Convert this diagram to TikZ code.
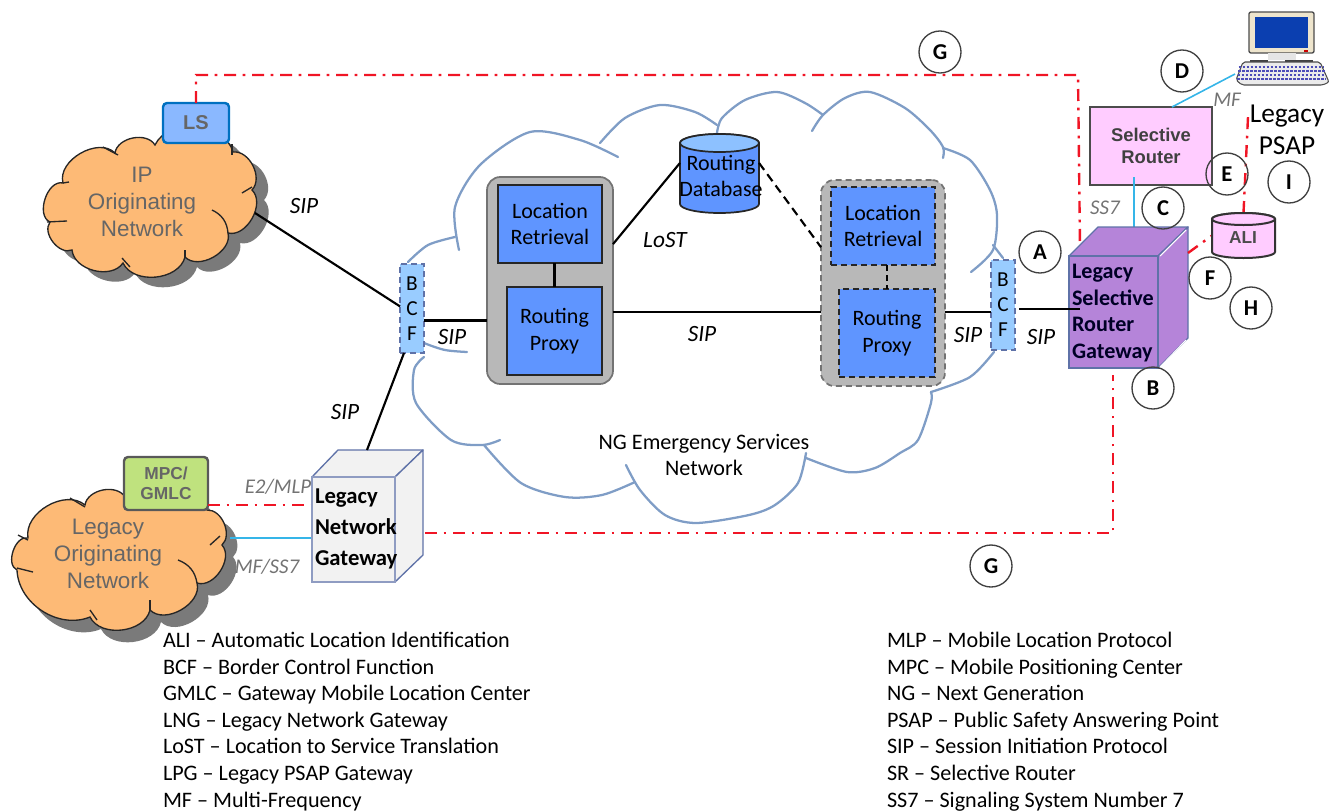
\documentclass[tikz,border=0pt]{standalone}
\usepackage{fontspec}
\setmainfont{Carlito}
\newfontfamily\arialfont{Liberation Sans}
\definecolor{cloudline}{HTML}{7F9DC6}
\definecolor{orangefill}{HTML}{FDBA76}
\definecolor{bluebox}{HTML}{5F95FF}
\definecolor{bcfblue}{HTML}{99CCFF}
\definecolor{pinkbox}{HTML}{FFCCFF}
\definecolor{purplebox}{HTML}{B584D9}
\definecolor{slateline}{HTML}{5F72A8}
\definecolor{redlink}{HTML}{F01525}
\definecolor{cyanlink}{HTML}{35B5E8}
\definecolor{graytext}{HTML}{666666}
\newcommand{\ipcloudpath}{(63,183) to[bend left=75] (115,153) to[bend left=70] (155,145) to[bend left=70] (233,152) to[bend left=70] (252,190) to[bend left=75] (228,233) to[bend left=75] (185,257) to[bend left=70] (123,263) to[bend left=70] (72,250) to[bend left=75] (50,222) to[bend left=85] cycle}
\newcommand{\legacycloudpath}{(28,538) to[bend left=70] (85,505) to[bend left=70] (125,497) to[bend left=60] (207,510) to[bend left=70] (222,545) to[bend left=75] (197,583) to[bend left=75] (150,610) to[bend left=70] (90,617) to[bend left=55] (17,570) to[bend left=85] cycle}
\begin{document}
\begin{tikzpicture}[x=0.75pt, y=-0.75pt,
		every node/.style={inner sep=0pt, outer sep=0pt},
		bigcloud/.style={cloudline, line width=1.7pt, line cap=round},
		orangecloud/.style={draw=black!85, fill=orangefill, line width=1pt},
		cloudshadow/.style={fill=black!52},
		cloudtick/.style={black!85, line width=1pt},
		cloudtext/.style={font=\arialfont\fontsize{16.8}{20}\selectfont, text=graytext, align=center},
		bluenode/.style={draw=black!85, fill=bluebox, line width=1.3pt, align=center, font=\fontsize{16.5}{20}\selectfont},
		boxdash/.style={dash pattern=on 4.5pt off 3pt},
		dashnode/.style={bluenode, boxdash},
		grpbox/.style={draw=black!55, fill=black!28, line width=1.3pt, rounded corners=10pt},
		bcfbox/.style={draw=slateline, fill=bcfblue, boxdash, line width=1pt, minimum width=18pt, align=center, font=\fontsize{16}{18.75}\selectfont},
		siplink/.style={black, line width=1.6pt},
		redline/.style={redlink, line width=1.8pt, dash pattern=on 9pt off 5pt on 2pt off 5pt},
		cyanline/.style={cyanlink, line width=1.2pt},
		boxtop/.style={draw=slateline, line width=1pt, line join=round},
		siptext/.style={font=\itshape\fontsize{17.5}{20}\selectfont},
		graylabel/.style={font=\itshape\fontsize{15.7}{18}\selectfont, text=black!55},
		letter/.style={circle, draw=black!75, line width=1pt, minimum size=31.5pt, font=\bfseries\fontsize{17}{20}\selectfont},
		legendtext/.style={anchor=west, text height=12pt, text depth=1pt, font=\fontsize{16.6}{18}\selectfont}]
		\useasboundingbox (0,0) rectangle (1329,811);

		\draw[bigcloud] plot[smooth] coordinates {(408,262) (428,245) (455,237)};
		\draw[bigcloud] plot[smooth] coordinates {(459,250) (455,207) (480,165) (530,132) (580,140) (618,157)};
		\draw[bigcloud] plot[smooth] coordinates {(600,143) (625,118) (660,105) (695,112) (717,125)};
		\draw[bigcloud] plot[smooth] coordinates {(717,133) (722,118) (745,100) (777,92) (805,103) (823,115)};
		\draw[bigcloud] plot[smooth] coordinates {(812,131) (823,115) (845,98) (870,92) (905,108) (930,130) (943,147) (943,158)};
		\draw[bigcloud] plot[smooth] coordinates {(943,148) (970,160) (990,190) (997,215) (993,250) (971,272)};
		\draw[bigcloud] (993,245) -- (1003,258);
		\draw[bigcloud] plot[smooth] coordinates {(994,352) (970,377) (931,392)};
		\draw[bigcloud] plot[smooth] coordinates {(931,392) (931,403) (918,440) (900,453) (875,468) (847,472) (806,458)};
		\draw[bigcloud] plot[smooth] coordinates {(806,453) (798,483) (775,505) (749,515) (696,523) (665,515) (640,490) (626,465)};
		\draw[bigcloud] plot[smooth] coordinates {(635,482) (602,495) (565,497) (521,483) (484,445)};
		\draw[bigcloud] plot[smooth] coordinates {(500,440) (482,445) (451,440) (416,403) (414,370) (424,357)};
		\draw[bigcloud] plot[smooth] coordinates {(467,352) (445,350) (424,343) (408,335)};
		\node[align=center, font=\fontsize{16.6}{20}\selectfont] (ngtext) at (704,455) {NG Emergency Services\\Network};

		\fill[cloudshadow, shift={(12,10)}] \ipcloudpath;
		\draw[orangecloud] \ipcloudpath;
		\draw[cloudtick] (212,210) to[bend left=30] (228,233);
		\draw[cloudtick] (242,193) -- (252,187);
		\draw[cloudtick] (122,258) -- (130,267);
		\draw[cloudtick] (185,250) -- (185,257);
		\draw[cloudtick] (47,222) -- (67,221);
		\draw[cloudtick] (63,183) -- (69,182);
		\draw[cloudtick] (103,147) -- (118,155);
		\draw[cloudtick] (232,144) -- (232,155);
		\node[cloudtext] (iptext) at (142,202) {IP\\Originating\\Network};

		\fill[cloudshadow, shift={(11,12)}] \legacycloudpath;
		\draw[orangecloud] \legacycloudpath;
		\draw[cloudtick] (178,560) to[bend left=30] (197,583);
		\draw[cloudtick] (210,545) -- (220,536);
		\draw[cloudtick] (150,600) -- (150,610);
		\draw[cloudtick] (90,610) -- (97,620);
		\draw[cloudtick] (17,568) -- (33,572);
		\draw[cloudtick] (18,535) -- (28,540);
		\draw[cloudtick] (70,498) -- (85,507);
		\node[cloudtext] (legacytext) at (108,554) {Legacy\\Originating\\Network};

		\node[draw={rgb,255:red,0;green,112;blue,192}, fill=bcfblue!90!blue, line width=1.8pt, rounded corners=3pt, minimum width=49.5pt, minimum height=30pt, text=graytext, font=\arialfont\bfseries\fontsize{15}{18}\selectfont] (ls) at (196,123) {LS};
		\node[draw=black!65, fill={rgb,255:red,191;green,226;blue,126}, line width=1.8pt, rounded corners=3pt, minimum width=63pt, minimum height=39.75pt, align=center, text=graytext, font=\arialfont\bfseries\fontsize{13}{15}\selectfont] (mpc) at (166,483.5) {MPC/\\GMLC};

		\coordinate (ipedge) at (255,213);
		\coordinate (legacyedge) at (230,538);
		\coordinate (redtop) at (1078,75);
		\coordinate (redin) at (1080,247);
		\coordinate (lngout) at (425,533);
		\coordinate (mpcout) at (208,505);
		\coordinate (mpcin) at (312,505);
		\coordinate (siplev) at (0,312);
		\coordinate (bcflout) at (424,320.5);
		\coordinate (bcfrout) at (1019,309);
		\coordinate (srin) at (1134,177);
		\coordinate (lsrgtop) at (1134,230);
		\coordinate (lsrgback) at (1188,253);
		\coordinate (psapred) at (1248,117);
		\coordinate (sipin) at (1080,309);
		\coordinate (lngin) at (312,538);

		\draw[redline] (ls.north) |- (redtop) -- (redin);

		\node[grpbox, minimum width=94.5pt, minimum height=155.25pt] (grpl) at (550,280.5) {};
		\node[grpbox, boxdash, minimum width=93pt, minimum height=154.5pt] (grpr) at (883,283) {};
		\node[bluenode, minimum width=78pt, minimum height=58.5pt] (lrl) at (550,224) {Location\\Retrieval};
		\node[bluenode, minimum width=71.25pt, minimum height=66pt] (rpl) at (554.5,331) {Routing\\Proxy};
		\node[dashnode, minimum width=78pt, minimum height=58.5pt] (lrr) at (883,226) {Location\\Retrieval};
		\node[dashnode, minimum width=72pt, minimum height=66pt] (rpr) at (887,333) {Routing\\Proxy};
		\node[bcfbox, minimum height=66.75pt] (bcfl) at (412,308.5) {B\\C\\F};
		\node[bcfbox, minimum height=67.5pt] (bcfr) at (1003,305) {B\\C\\F};

		\node[minimum width=59.25pt, minimum height=59.25pt] (rdb) at (719.5,173.5) {};
		\draw[draw=black!85, fill=bluebox, line width=1.3pt] (rdb.north west) ++(0,9) -- ++(0,61) arc[start angle=180, end angle=360, x radius=29.625pt, y radius=6.75pt] -- ++(0,-61) arc[start angle=0, end angle=180, x radius=29.625pt, y radius=6.75pt] -- cycle;
		\draw[draw=black!85, fill=bcfblue!80!bluebox, line width=1.3pt] (rdb.north) ++(0,9) ellipse[x radius=29.625pt, y radius=6.75pt];
		\node[align=center, font=\fontsize{16.5}{20}\selectfont] (rdbtext) at (721,176) {Routing\\Database};

		\draw[siplink] (ipedge) -- (bcfl.170);
		\draw[siplink] (bcflout) -- (bcflout -| grpl.west);
		\draw[siplink] (grpl.east |- siplev) -- (grpr.west |- siplev);
		\draw[siplink] (grpr.east |- siplev) -- (bcfr.west |- siplev);
		\draw[siplink] (lrl.south -| rpl.north) -- (rpl.north);
		\draw[siplink, boxdash] (lrr.south -| rpr.north) -- (rpr.north);
		\draw[siplink] (grpl.30) -- (rdb.165);
		\draw[siplink, dash pattern=on 6.5pt off 4pt] (rdb.15) -- (grpr.150);

		\draw[redline] (lngout) -| (1113,375);
		\draw[redline] (mpcout) -- (mpcin);
		\draw[cyanline] (legacyedge) -- (lngin);

		\draw[boxtop, fill=black!5] (312,477) -- (338,450) -- (423,450) -- (395,477) -- cycle;
		\draw[boxtop, fill=black!5] (395,477) -- (423,450) -- (423,555) -- (395,582) -- cycle;
		\node[draw=slateline!70, fill=black!5, line width=1pt, minimum width=62.25pt, minimum height=78.75pt] (lng) at (353.5,529.5) {};
		\node[anchor=west, align=left, font=\bfseries\fontsize{17}{23}\selectfont] (lngtext) at (315,529) {Legacy\\Network\\Gateway};
		\draw[siplink] (bcfl.south) ++(-8,0) -- (367,450);

		\node[draw=black!70, fill=pinkbox, line width=1.5pt, minimum width=91.5pt, minimum height=58.5pt, align=center, text=black!75, font=\arialfont\bfseries\fontsize{13.8}{16.5}\selectfont] (sr) at (1151,146) {Selective\\Router};
		\draw[cyanline] (srin) -- (lsrgtop);
		\draw[boxtop, fill=purplebox] (1069,256) -- (1098,227) -- (1188,227) -- (1158,256) -- cycle;
		\draw[boxtop, fill=purplebox] (1158,256) -- (1188,227) -- (1188,338) -- (1158,368) -- cycle;
		\draw[white, line width=0.8pt] (1160,256) -- (1186,230);
		\draw[white, line width=0.8pt] (1160,367) -- (1186,340);
		\node[draw=slateline, fill=purplebox, line width=1pt, minimum width=66.75pt, minimum height=84pt] (lsrg) at (1113.5,312) {};
		\node[anchor=west, align=left, text=black!85!blue, font=\bfseries\fontsize{16.6}{20}\selectfont] (lsrgtext) at (1072,313) {Legacy\\Selective\\Router\\Gateway};
		\draw[siplink] (bcfrout) -- (sipin);

		\node[minimum width=47.25pt, minimum height=33.75pt] (ali) at (1243.5,235.5) {};
		\draw[redline] (lsrgback) -- (ali.west);
		\draw[redline] (ali.north) -- (psapred);
		\draw[draw=black!80, fill=pinkbox, line width=1.5pt] (ali.north west) ++(0,6) -- ++(0,33) arc[start angle=180, end angle=360, x radius=23.625pt, y radius=4.5pt] -- ++(0,-33) arc[start angle=0, end angle=180, x radius=23.625pt, y radius=4.5pt] -- cycle;
		\draw[draw=black!80, fill=pinkbox, line width=1.5pt] (ali.north) ++(0,6) ellipse[x radius=23.625pt, y radius=4.5pt];
		\node[text=black!70, font=\arialfont\bfseries\fontsize{13}{15}\selectfont] (alitext) at (1243,238) {ALI};

		\node[draw=black!70, fill={rgb,255:red,238;green,229;blue,205}, line width=1pt, rounded corners=1.5pt, minimum width=48.75pt, minimum height=30.75pt] (mon) at (1281.5,32.5) {};
		\node[fill={rgb,255:red,11;green,63;blue,176}, minimum width=39.75pt, minimum height=23.25pt] (scr) at (1281.5,32.5) {};
		\fill[red!80!black] (1304,50) rectangle (1308,52);
		\fill[black!10] (1268,53) rectangle (1296,60);
		\fill[black!75] (1250,60) rectangle (1268,62);
		\fill[black!75] (1285,60) rectangle (1313,62);
		\draw[draw=black!70, fill=black!8, line width=0.8pt, rounded corners=1.5pt] (1243,62) -- (1320,62) -- (1329,82) -- (1323,85) -- (1242,85) -- (1236,80) -- cycle;
		\foreach \y in {67,71,75,79}{
		\draw[blue!60!black!70!white, line width=1.2pt, dash pattern=on 2pt off 1pt] (1247-\y/8,\y) -- (1316+\y/8,\y);}
		\coordinate (kbd) at (1235,74);
		\draw[cyanline] (kbd) -- (1172,107);

		\foreach \n/\t/\x/\y in {a/A/1040/252,b/B/1153/388,c/C/1163/208,d/D/1182/71,e/E/1227/174,f/F/1210/278,g/G/940/52,gg/G/991/566,h/H/1251/308,i/I/1289/182}{
		\node[letter] (circ\n) at (\x,\y) {\t};}

		\foreach \n/\x/\y in {1/304/206,2/452/337,3/345/412,4/702/334,5/968/335,6/1041/337}{
		\node[siptext] (sip\n) at (\x,\y) {SIP};}
		\node[siptext] (lost) at (665,240) {LoST};
		\node[graylabel] (mf) at (1227,100) {MF};
		\node[graylabel] (ss7) at (1105,208) {SS7};
		\node[graylabel] (e2) at (278,487) {E2/MLP};
		\node[graylabel] (mfss7) at (267,567) {MF/SS7};
		\node[align=center, font=\fontsize{20.5}{24}\selectfont] (psap) at (1287,130) {Legacy\\PSAP};

		\foreach \y/\t in {640/ALI – Automatic Location Identification,667/BCF – Border Control Function,693/GMLC – Gateway Mobile Location Center,720/LNG – Legacy Network Gateway,746/LoST – Location to Service Translation,773/LPG – Legacy PSAP Gateway,800/MF – Multi-Frequency}{
		\node[legendtext] (legl\y) at (163,\y) {\t};}
		\foreach \y/\t in {640/MLP – Mobile Location Protocol,667/MPC – Mobile Positioning Center,693/NG – Next Generation,720/PSAP – Public Safety Answering Point,746/SIP – Session Initiation Protocol,773/SR – Selective Router,800/SS7 – Signaling System Number 7}{
		\node[legendtext] (legr\y) at (887,\y) {\t};}
\end{tikzpicture}
\end{document}
